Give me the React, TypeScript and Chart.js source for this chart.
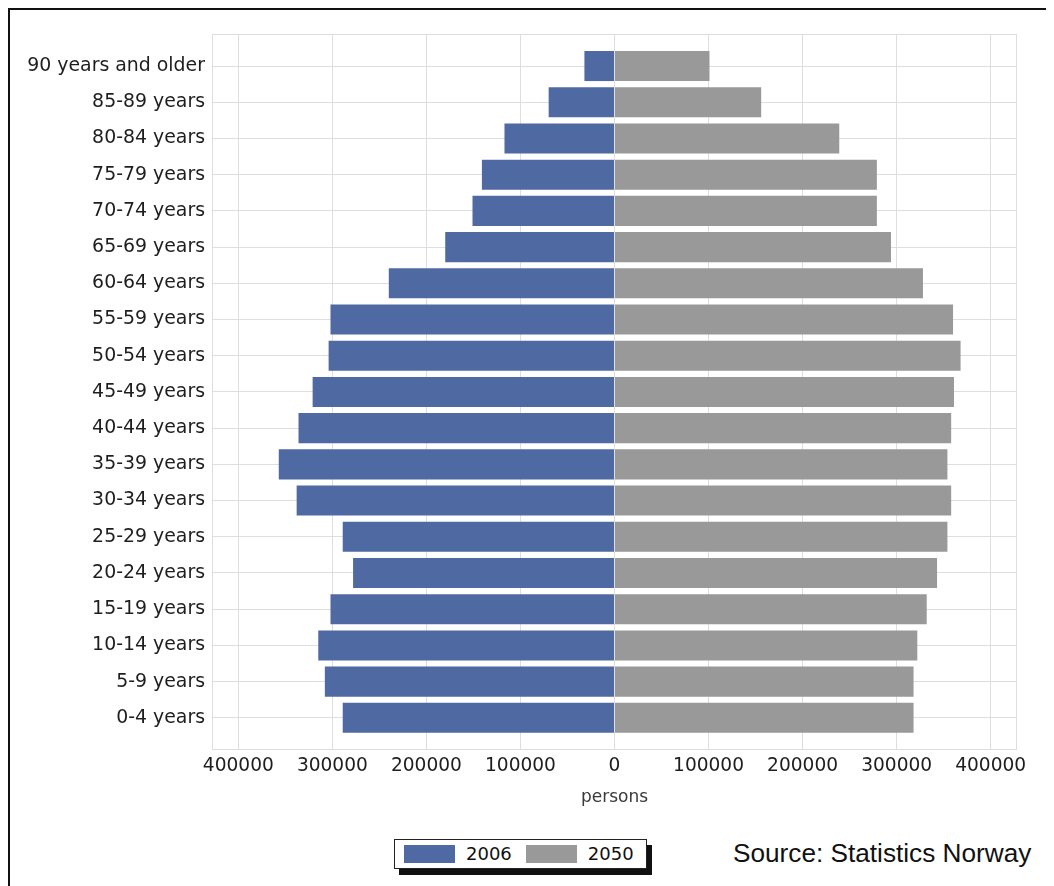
import React, { useEffect, useRef } from "react";
import { Chart, registerables } from "chart.js";

Chart.register(...registerables);

// ---- Data (top row first) ----
const ageGroups = [
  "90 years and older",
  "85-89 years",
  "80-84 years",
  "75-79 years",
  "70-74 years",
  "65-69 years",
  "60-64 years",
  "55-59 years",
  "50-54 years",
  "45-49 years",
  "40-44 years",
  "35-39 years",
  "30-34 years",
  "25-29 years",
  "20-24 years",
  "15-19 years",
  "10-14 years",
  "5-9 years",
  "0-4 years",
];
const pop2006 = [
  32000, 70000, 117000, 141000, 151000, 180000, 240000, 302000, 304000, 321000,
  336000, 357000, 338000, 289000, 278000, 302000, 315000, 308000, 289000,
];
const pop2050 = [
  101000, 156000, 239000, 279000, 279000, 294000, 328000, 360000, 368000, 361000,
  358000, 354000, 358000, 354000, 343000, 332000, 322000, 318000, 318000,
];
const seriesNames = ["2006", "2050"];
const seriesColors = ["#4F6AA3", "#999999"];
const xTickValues = [-400000, -300000, -200000, -100000, 0, 100000, 200000, 300000, 400000];
const xLimit = 428000;
const axisTitle = "persons";
const sourceNote = "Source: Statistics Norway";

const GRID = "#dedede";
const TEXT = "#1e1e1e";
const ROW_PAD = 0.885;

const framePlugin = {
  id: "plotFrame",
  beforeDatasetsDraw(chart: any) {
    const { ctx, chartArea: a } = chart;
    ctx.save();
    ctx.strokeStyle = GRID;
    ctx.lineWidth = 1;
    ctx.strokeRect(
      Math.round(a.left) + 0.5,
      Math.round(a.top) + 0.5,
      Math.round(a.right - a.left) - 1,
      Math.round(a.bottom - a.top) - 1
    );
    ctx.restore();
  },
};

function PyramidChart() {
  const canvasRef = useRef<HTMLCanvasElement | null>(null);

  useEffect(() => {
    if (!canvasRef.current) return;
    const chart = new Chart(canvasRef.current, {
      type: "bar",
      data: {
        datasets: [
          {
            label: seriesNames[0],
            data: pop2006.map((v, i) => ({ x: -v, y: i })),
            backgroundColor: seriesColors[0],
            borderWidth: 0,
            categoryPercentage: 0.83,
            barPercentage: 1,
          },
          {
            label: seriesNames[1],
            data: pop2050.map((v, i) => ({ x: v, y: i })),
            backgroundColor: seriesColors[1],
            borderWidth: 0,
            categoryPercentage: 0.83,
            barPercentage: 1,
          },
        ],
      },
      options: {
        indexAxis: "y",
        animation: false,
        responsive: true,
        maintainAspectRatio: false,
        layout: { padding: { left: 0, right: 33, top: 24, bottom: 12.4 } },
        plugins: {
          legend: { display: false },
          tooltip: { enabled: false },
        },
        scales: {
          x: {
            type: "linear",
            stacked: true,
            bounds: "data",
            min: -xLimit,
            max: xLimit,
            grid: { color: GRID, drawTicks: false },
            border: { display: false },
            afterBuildTicks: (scale: any) => {
              scale.ticks = xTickValues.map((v) => ({ value: v }));
            },
            ticks: {
              padding: 5,
              color: TEXT,
              font: { family: "DejaVu Sans", size: 18.6 },
              maxRotation: 0,
              autoSkip: false,
              callback: (v: any) => String(Math.abs(Number(v))),
            },
            title: {
              display: true,
              text: axisTitle,
              color: "#3a3a3a",
              font: { family: "DejaVu Sans", size: 17 },
              padding: { top: 5, bottom: 0 },
            },
          },
          y: {
            type: "linear",
            stacked: true,
            reverse: true,
            offset: false,
            bounds: "data",
            min: -ROW_PAD,
            max: ageGroups.length - 1 + ROW_PAD,
            grid: { color: GRID, drawTicks: false, offset: false },
            border: { display: false },
            afterFit: (scale: any) => {
              scale.width = 202;
            },
            afterBuildTicks: (scale: any) => {
              scale.ticks = ageGroups.map((_, i) => ({ value: i }));
            },
            ticks: {
              autoSkip: false,
              padding: 7,
              color: TEXT,
              font: { family: "DejaVu Sans", size: 18.9 },
              callback: (v: any) => ageGroups[Math.round(Number(v))] ?? "",
            },
          },
        },
      },
      plugins: [framePlugin],
    });
    return () => chart.destroy();
  }, []);

  return (
    <div style={{ position: "absolute", left: 0, top: 0, width: 1040, height: 810 }}>
      <canvas ref={canvasRef} />
    </div>
  );
}

function Legend() {
  return (
    <div
      style={{
        position: "absolute",
        left: 384,
        top: 829,
        height: 30,
        boxSizing: "border-box",
        border: "1px solid #222",
        background: "#fff",
        boxShadow: "5px 6px 0 0 #111",
        display: "flex",
        alignItems: "center",
        paddingLeft: 9,
        paddingRight: 12,
        fontFamily: "DejaVu Sans",
        fontSize: 18,
        color: "#111",
      }}
    >
      {seriesNames.map((name, i) => (
        <div key={name} style={{ display: "flex", alignItems: "center", marginLeft: i === 0 ? 0 : 14 }}>
          <div style={{ width: 51, height: 18, background: seriesColors[i] }} />
          <span style={{ marginLeft: 11, lineHeight: "20px" }}>{name}</span>
        </div>
      ))}
    </div>
  );
}

export default function App() {
  return (
    <div
      style={{
        position: "relative",
        width: 1046,
        height: 878,
        boxSizing: "border-box",
        borderTop: "2px solid #111",
        borderLeft: "2px solid #111",
        background: "#fff",
        overflow: "hidden",
      }}
    >
      <PyramidChart />
      <Legend />
      <div
        style={{
          position: "absolute",
          left: 723,
          top: 830,
          fontFamily: "Liberation Sans",
          fontSize: 26.2,
          lineHeight: 1,
          color: "#111",
          whiteSpace: "nowrap",
        }}
      >
        {sourceNote}
      </div>
    </div>
  );
}
